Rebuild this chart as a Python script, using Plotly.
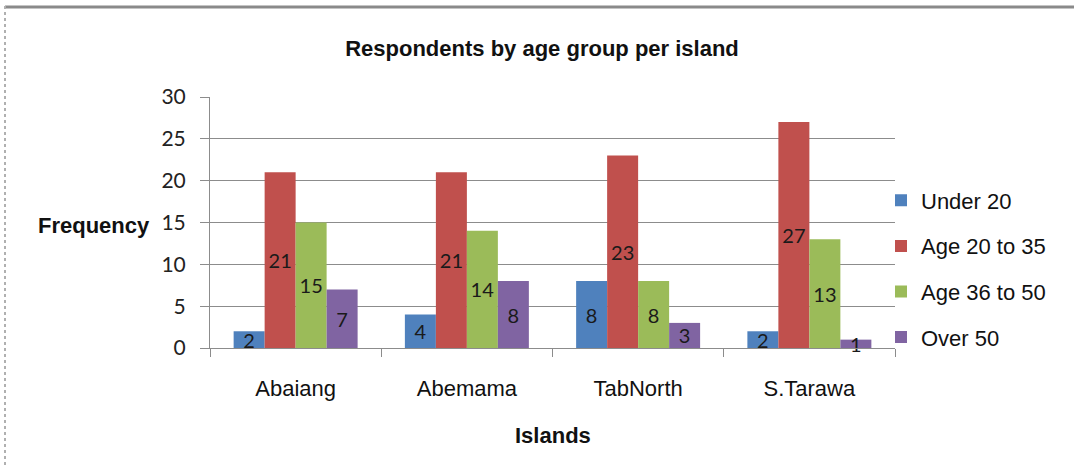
import plotly.graph_objects as go

# Survey counts per island and age band
islands = ["Abaiang", "Abemama", "TabNorth", "S.Tarawa"]
under_20 = [2, 4, 8, 2]
age_20_35 = [21, 21, 23, 27]
age_36_50 = [15, 14, 8, 13]
over_50 = [7, 8, 3, 1]

series_names = ["Under 20", "Age 20 to 35", "Age 36 to 50", "Over 50"]
series_values = [under_20, age_20_35, age_36_50, over_50]
series_colors = ["#4F81BD", "#C0504D", "#9BBB59", "#8064A2"]

y_ticks = [0, 5, 10, 15, 20, 25, 30]

W, H = 1075, 466
ML, MR, MT, MB = 210, 180, 97, 118
PW, PH = W - ML - MR, H - MT - MB


def px_x(px):
    return (px - ML) / PW


def px_y(py):
    return (H - MB - py) / PH


fig = go.Figure()
for name, vals, col in zip(series_names, series_values, series_colors):
    fig.add_trace(go.Bar(
        x=islands,
        y=vals,
        name=name,
        legendgroup=name,
        marker=dict(color=col, line=dict(width=0)),
        text=[str(v) for v in vals],
        textposition="inside",
        insidetextanchor="middle",
        constraintext="none",
        textangle=0,
        textfont=dict(family="Lato, 'Open Sans', sans-serif", size=20, color="#1a1a1a"),
        cliponaxis=False,
    ))

axis_grey = "#8c8c8c"
label_font = "Liberation Sans, Arial, sans-serif"

fig.update_layout(
    width=W,
    height=H,
    margin=dict(l=ML, r=MR, t=MT, b=MB),
    paper_bgcolor="white",
    plot_bgcolor="white",
    barmode="group",
    bargap=0.276,
    bargroupgap=0,
    showlegend=True,
    legend=dict(
        x=px_x(881),
        xanchor="left",
        y=px_y(269),
        yanchor="middle",
        font=dict(family=label_font, size=22, color="#111"),
        tracegroupgap=14,
        itemwidth=30,
        bgcolor="rgba(0,0,0,0)",
    ),
    title=dict(
        text="<b>Respondents by age group per island</b>",
        font=dict(family=label_font, size=22, color="#111"),
        xref="paper",
        x=px_x(542),
        xanchor="center",
        yref="container",
        y=1 - 48 / H,
        yanchor="middle",
    ),
    xaxis=dict(
        showline=True,
        linecolor=axis_grey,
        linewidth=1,
        ticks="outside",
        tickson="boundaries",
        ticklen=8,
        tickcolor=axis_grey,
        ticklabelstandoff=21,
        tickfont=dict(family=label_font, size=22, color="#111"),
        showgrid=False,
    ),
    yaxis=dict(
        range=[0, 30],
        tickvals=y_ticks,
        showline=True,
        linecolor=axis_grey,
        linewidth=1,
        ticks="outside",
        ticklen=9,
        tickcolor=axis_grey,
        ticklabelstandoff=10,
        showgrid=True,
        gridcolor=axis_grey,
        gridwidth=1,
        zeroline=False,
        tickfont=dict(family="Lato, 'Open Sans', sans-serif", size=21, color="#222"),
    ),
    annotations=[
        dict(
            text="<b>Frequency</b>",
            xref="paper", yref="paper",
            x=px_x(36), xanchor="left",
            y=px_y(225), yanchor="middle",
            showarrow=False,
            font=dict(family=label_font, size=22, color="#111"),
        ),
        dict(
            text="<b>Islands</b>",
            xref="paper", yref="paper",
            x=px_x(553), xanchor="center",
            y=px_y(435), yanchor="middle",
            showarrow=False,
            font=dict(family=label_font, size=22, color="#111"),
        ),
    ],
    shapes=[
        # chart frame: top and left edges
        dict(type="line", xref="paper", yref="paper", layer="above",
             x0=px_x(5), x1=px_x(1074), y0=px_y(7), y1=px_y(7),
             line=dict(color="#8a8a8a", width=3)),
        dict(type="line", xref="paper", yref="paper", layer="above",
             x0=px_x(5), x1=px_x(5), y0=px_y(6), y1=px_y(466),
             line=dict(color="#b0b0b0", width=2, dash="dot")),
    ],
)

fig.write_html("out.html")
